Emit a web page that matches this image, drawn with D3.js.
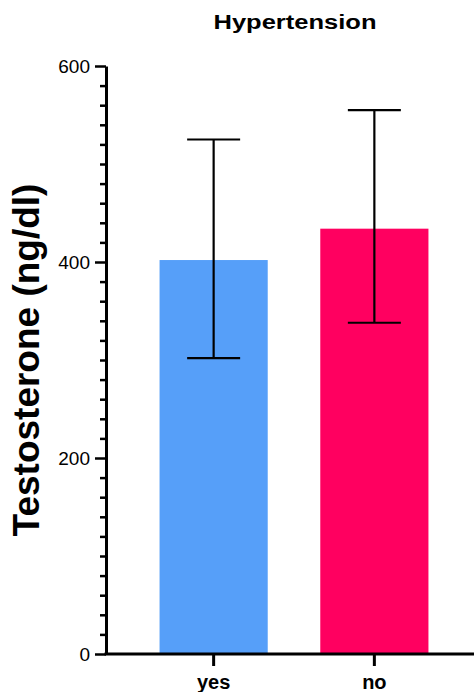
<!DOCTYPE html>
<html><head><meta charset="utf-8">
<script src="https://cdn.jsdelivr.net/npm/d3@7"></script>
<style>
html,body{margin:0;padding:0;background:#fff;}
text{font-family:"Liberation Sans",Arial,sans-serif;}
</style></head>
<body>
<svg id="chart" width="474" height="692"></svg>
<script>
const categories = ["yes", "no"];
const means = [402, 434];
const upper = [525, 555];
const lower = [302, 338];
const colors = ["#569FF9", "#FF0060"];
const majorTicks = [0, 200, 400, 600];
const minorStep = 20;
const title = "Hypertension";
const yTitle = "Testosterone (ng/dl)";

const svg = d3.select("#chart");
const x = d3.scaleBand().domain(categories).range([107, 481]).padding(0.327);
const y = d3.scaleLinear().domain([0, 600]).range([654, 66]);

// bars
svg.selectAll("rect.bar").data(categories).enter().append("rect")
  .attr("x", d => x(d)).attr("width", x.bandwidth())
  .attr("y", (d, i) => y(means[i])).attr("height", (d, i) => y(0) - y(means[i]))
  .attr("fill", (d, i) => colors[i]);

// error bars
const cap = 53;
categories.forEach((c, i) => {
  const cx = x(c) + x.bandwidth() / 2;
  const g = svg.append("g").attr("stroke", "#000").attr("stroke-width", 2.2);
  g.append("line").attr("x1", cx).attr("x2", cx).attr("y1", y(upper[i])).attr("y2", y(lower[i]));
  g.append("line").attr("x1", cx - cap / 2).attr("x2", cx + cap / 2).attr("y1", y(upper[i])).attr("y2", y(upper[i]));
  g.append("line").attr("x1", cx - cap / 2).attr("x2", cx + cap / 2).attr("y1", y(lower[i])).attr("y2", y(lower[i]));
});

// y axis minor ticks
const minor = d3.range(0, 601, minorStep).filter(v => !majorTicks.includes(v));
const yMinor = svg.append("g").attr("transform", "translate(106,0)")
  .call(d3.axisLeft(y).tickValues(minor).tickSize(6).tickFormat(""));
yMinor.select(".domain").remove();
yMinor.selectAll("line").attr("stroke", "#000").attr("stroke-width", 2.5);

// y axis major
const yAx = svg.append("g").attr("transform", "translate(106,0)")
  .call(d3.axisLeft(y).tickValues(majorTicks).tickSize(11).tickSizeOuter(0).tickPadding(5));
yAx.select(".domain").attr("stroke", "#000").attr("stroke-width", 3);
yAx.selectAll(".tick line").attr("stroke", "#000").attr("stroke-width", 2.5);
yAx.selectAll(".tick text").attr("font-size", 19).attr("fill", "#000")
  .attr("font-family", "'Liberation Sans', Arial, sans-serif");

// x axis
const xAx = svg.append("g").attr("transform", "translate(0,654)")
  .call(d3.axisBottom(x).tickSize(12).tickSizeOuter(0).tickPadding(9));
xAx.select(".domain").attr("d", "M104.5,0H474").attr("stroke", "#000").attr("stroke-width", 3);
xAx.selectAll(".tick line").attr("stroke", "#000").attr("stroke-width", 3);
xAx.selectAll(".tick text").attr("font-size", 20).attr("font-weight", "bold").attr("fill", "#000")
  .attr("font-family", "'Liberation Sans', Arial, sans-serif");

// title
svg.append("text").attr("x", 295).attr("y", 29).attr("text-anchor", "middle")
  .attr("font-size", 20).attr("font-weight", "bold").attr("fill", "#000")
  .attr("textLength", 163).attr("lengthAdjust", "spacingAndGlyphs")
  .text(title);

// y title
svg.append("text").attr("transform", "translate(39,360) rotate(-90)")
  .attr("text-anchor", "middle").attr("font-size", 37).attr("font-weight", "bold").attr("fill", "#000")
  .text(yTitle);
</script>
</body></html>
